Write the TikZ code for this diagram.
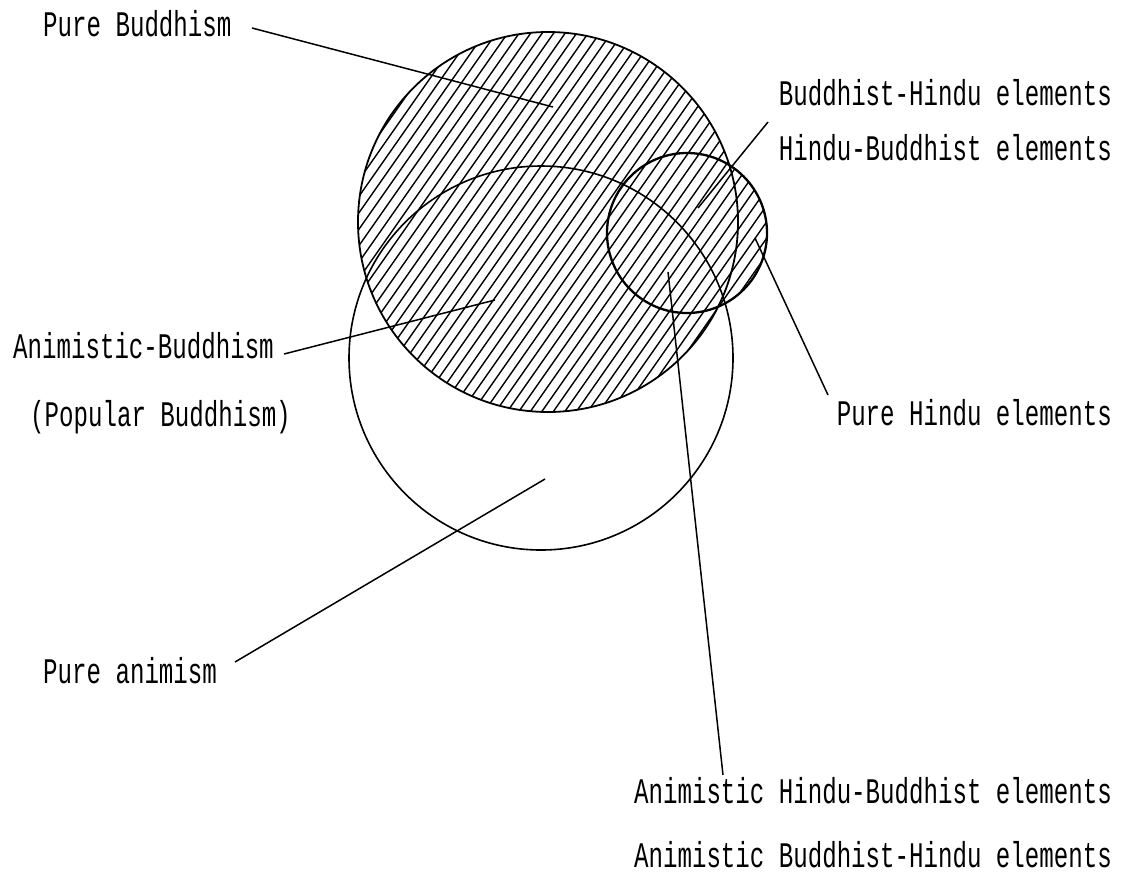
\documentclass[tikz,border=0pt]{standalone}
\usepackage{fontspec}
\setmonofont[FakeStretch=0.67]{Liberation Mono}
\begin{document}
\begin{tikzpicture}[x=1pt,y=-1pt,
  lbl/.style={font=\fontsize{36}{40}\selectfont\ttfamily, inner sep=0pt},
  ring/.style={draw, circle, inner sep=0pt, line width=1.8pt},
  hatch/.style={line width=1.4pt},
  leader/.style={line width=1.5pt}]
\fill[white] (0,0) rectangle (1121,879);
\useasboundingbox (0,0) rectangle (1121,879);
% hatching of Buddhism and Hindu circles
\begin{scope}
  \clip (548,222) circle[radius=190pt] (687,233) circle[radius=80pt];
  \foreach \k in {-50,...,50}
    \draw[hatch] ({548+11.5*\k-224},{222+320}) -- ({548+11.5*\k+224},{222-320});
\end{scope}
% circles
\node[ring, minimum size=380pt] (buddh) at (548,222) {};
\node[ring, minimum size=384pt, line width=1.6pt] (anim) at (541,358) {};
\node[ring, minimum size=160pt, line width=2.3pt] (hindu) at (687,233) {};
% labels
\node[lbl, anchor=base west] (pb) at (43,36) {Pure Buddhism};
\node[lbl, anchor=base east] (bh) at (1112,105) {Buddhist-Hindu elements};
\node[lbl, anchor=base east] (hb) at (1112,160) {Hindu-Buddhist elements};
\node[lbl, anchor=base west] (ab) at (13,358) {Animistic-Buddhism};
\node[lbl, anchor=base west] (pop) at (30,426) {(Popular Buddhism)};
\node[lbl, anchor=base east] (ph) at (1112,425) {Pure Hindu elements};
\node[lbl, anchor=base west] (pa) at (43,683) {Pure animism};
\node[lbl, anchor=base east] (ahb) at (1112,803) {Animistic Hindu-Buddhist elements};
\node[lbl, anchor=base east] (abh) at (1112,867) {Animistic Buddhist-Hindu elements};
% leader end points
\coordinate (pbS) at (252,28);   \coordinate (pbE) at (553,107);
\coordinate (bhS) at (768,122);  \coordinate (bhE) at (698,208);
\coordinate (abS) at (284,354);  \coordinate (abE) at (495,300);
\coordinate (phS) at (828,395);  \coordinate (phE) at (755,238);
\coordinate (ahS) at (723,775);  \coordinate (ahE) at (668,272);
\coordinate (paS) at (235,662);  \coordinate (paE) at (545,479);
\draw[leader] (pbS) -- (pbE);
\draw[leader] (bhS) -- (bhE);
\draw[leader] (abS) -- (abE);
\draw[leader] (phS) -- (phE);
\draw[leader] (ahS) -- (ahE);
\draw[leader] (paS) -- (paE);
\end{tikzpicture}
\end{document}
